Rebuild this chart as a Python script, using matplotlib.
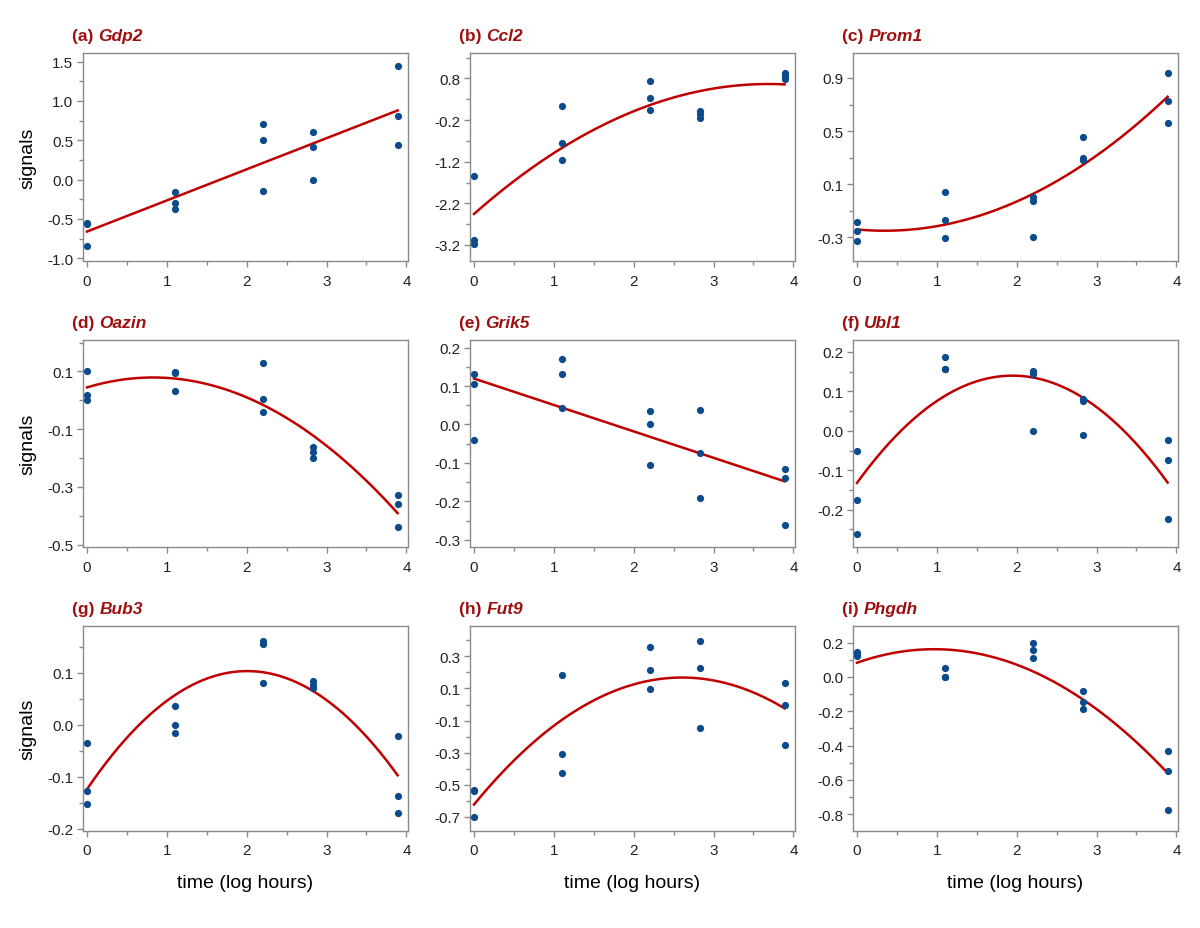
import numpy as np
import matplotlib
matplotlib.use("Agg")
import matplotlib.pyplot as plt
from matplotlib.ticker import FixedLocator

plt.rcParams['font.family'] = ['Liberation Sans', 'DejaVu Sans']
plt.rcParams['axes.unicode_minus'] = False

# ---- data ----
time_points = [0.0, 1.1, 2.2, 2.83, 3.89]

labels = ["(a)", "(b)", "(c)", "(d)", "(e)", "(f)", "(g)", "(h)", "(i)"]
genes = ["Gdp2", "Ccl2", "Prom1", "Oazin", "Grik5", "Ubl1", "Bub3", "Fut9", "Phgdh"]
fit_degree = [1, 2, 2, 2, 1, 2, 2, 2, 2]

gdp2 = [[-0.55, -0.56, -0.85], [-0.16, -0.30, -0.38], [0.71, 0.50, -0.14],
        [0.61, 0.42, 0.00], [1.44, 0.81, 0.44]]
ccl2 = [[-1.55, -3.07, -3.18], [0.14, -0.75, -1.16], [0.74, 0.34, 0.05],
        [0.02, -0.06, -0.15], [0.94, 0.86, 0.78]]
prom1 = [[-0.185, -0.25, -0.328], [0.043, -0.17, -0.305], [0.005, -0.025, -0.295],
         [0.455, 0.298, 0.285], [0.94, 0.728, 0.56]]
oazin = [[0.101, 0.018, 0.002], [0.098, 0.095, 0.033], [0.131, 0.006, -0.041],
         [-0.160, -0.180, -0.200], [-0.329, -0.358, -0.438]]
grik5 = [[0.131, 0.106, -0.041], [0.170, 0.131, 0.043], [0.036, 0.0, -0.105],
         [0.037, -0.074, -0.191], [-0.117, -0.139, -0.261]]
ubl1 = [[-0.051, -0.176, -0.262], [0.187, 0.157, 0.156], [0.151, 0.145, 0.0],
        [0.081, 0.075, -0.010], [-0.024, -0.074, -0.224]]
bub3 = [[-0.035, -0.128, -0.152], [0.037, 0.0, -0.015], [0.161, 0.155, 0.081],
        [0.084, 0.077, 0.071], [-0.022, -0.137, -0.169]]
fut9 = [[-0.535, -0.54, -0.70], [0.181, -0.31, -0.426], [0.36, 0.218, 0.094],
        [0.397, 0.228, -0.145], [0.135, 0.0, -0.255]]
phgdh = [[0.143, 0.134, 0.124], [0.054, 0.0, 0.001], [0.2, 0.157, 0.113],
         [-0.082, -0.147, -0.187], [-0.43, -0.551, -0.774]]
signals = [gdp2, ccl2, prom1, oazin, grik5, ubl1, bub3, fut9, phgdh]

y_major = [
    [-1.0, -0.5, 0.0, 0.5, 1.0, 1.5],
    [0.8, -0.2, -1.2, -2.2, -3.2],
    [0.9, 0.5, 0.1, -0.3],
    [0.1, -0.1, -0.3, -0.5],
    [0.2, 0.1, 0.0, -0.1, -0.2, -0.3],
    [0.2, 0.1, 0.0, -0.1, -0.2],
    [0.1, 0.0, -0.1, -0.2],
    [0.3, 0.1, -0.1, -0.3, -0.5, -0.7],
    [0.2, 0.0, -0.2, -0.4, -0.6, -0.8],
]
y_labels = [
    ["-1.0", "-0.5", "0.0", "0.5", "1.0", "1.5"],
    ["0.8", "-0.2", "-1.2", "-2.2", "-3.2"],
    ["0.9", "0.5", "0.1", "-0.3"],
    ["0.1", "-0.1", "-0.3", "-0.5"],
    ["0.2", "0.1", "0.0", "-0.1", "-0.2", "-0.3"],
    ["0.2", "0.1", "0.0", "-0.1", "-0.2"],
    ["0.1", "0.0", "-0.1", "-0.2"],
    ["0.3", "0.1", "-0.1", "-0.3", "-0.5", "-0.7"],
    ["0.2", "0.0", "-0.2", "-0.4", "-0.6", "-0.8"],
]
y_minor = [
    [-0.75, -0.25, 0.25, 0.75, 1.25],
    [1.3, 0.3, -0.7, -1.7, -2.7],
    [0.7, 0.3, -0.1],
    [0.2, 0.0, -0.2, -0.4],
    [0.15, 0.05, -0.05, -0.15, -0.25],
    [0.15, 0.05, -0.05, -0.15, -0.25],
    [0.15, 0.05, -0.05, -0.15],
    [0.4, 0.2, 0.0, -0.2, -0.4, -0.6],
    [0.1, -0.1, -0.3, -0.5, -0.7],
]
y_limits = [
    (-1.035, 1.61), (-3.585, 1.41), (-0.478, 1.088),
    (-0.508, 0.209), (-0.319, 0.22), (-0.2945, 0.230),
    (-0.204, 0.19), (-0.788, 0.489), (-0.899, 0.2975),
]
x_ticks = [0, 1, 2, 3, 4]
x_minor = [0.5, 1.5, 2.5, 3.5]

# ---- style ----
W, H = 1200, 929
col_left = [83, 470, 853]
col_w = 325
row_top = [54, 341, 627]
row_bot = [262, 548, 832]
dot_color = "#0b4a8b"
line_color = "#c00000"
title_color = "#9e1010"
spine_color = "#8a8a8a"

fig = plt.figure(figsize=(W / 100, H / 100), dpi=100)
renderer = fig.canvas.get_renderer()

for i in range(9):
    r, c = divmod(i, 3)
    left = col_left[c] / W
    bottom = 1 - row_bot[r] / H
    height = (row_bot[r] - row_top[r]) / H
    ax = fig.add_axes([left, bottom, col_w / W, height])

    xs, ys = [], []
    for t, vals in zip(time_points, signals[i]):
        xs += [t] * len(vals)
        ys += vals
    xs = np.array(xs)
    ys = np.array(ys)
    ax.scatter(xs, ys, s=27, color=dot_color, zorder=3, linewidths=0)
    coef = np.polyfit(xs, ys, fit_degree[i])
    xf = np.linspace(time_points[0], time_points[-1], 200)
    ax.plot(xf, np.polyval(coef, xf), color=line_color, lw=1.8, zorder=2)

    ax.set_xlim(-0.05, 4.02)
    ax.set_ylim(*y_limits[i])
    ax.xaxis.set_major_locator(FixedLocator(x_ticks))
    ax.xaxis.set_minor_locator(FixedLocator(x_minor))
    ax.set_xticklabels([str(v) for v in x_ticks])
    ax.yaxis.set_major_locator(FixedLocator(y_major[i]))
    ax.yaxis.set_minor_locator(FixedLocator(y_minor[i]))
    ax.set_yticklabels(y_labels[i])
    ax.tick_params(which='major', length=4, width=1, color=spine_color,
                   labelsize=11, labelcolor="#222222", pad=3)
    ax.tick_params(axis='x', which='major', pad=5)
    ax.tick_params(which='minor', length=3, width=1, color=spine_color)
    for sp in ax.spines.values():
        sp.set_color(spine_color)
        sp.set_linewidth(1.0)

    if c == 0:
        ax.set_ylabel("signals", fontsize=14, labelpad=8)
    if r == 2:
        ax.set_xlabel("time (log hours)", fontsize=14, labelpad=12)

    # title: "(a) " bold + gene bold italic
    tx = (col_left[c] - 11) / W
    ty = 1 - (row_top[r] - 13) / H
    t1 = fig.text(tx, ty, labels[i] + " ", fontsize=12.5, fontweight='bold',
                  color=title_color, va='baseline', ha='left')
    bb = t1.get_window_extent(renderer=renderer)
    fig.text(bb.x1 / W, ty, genes[i], fontsize=12.5, fontweight='bold',
             fontstyle='italic', color=title_color, va='baseline', ha='left')

fig.savefig("out.png", dpi=100, facecolor="white")
